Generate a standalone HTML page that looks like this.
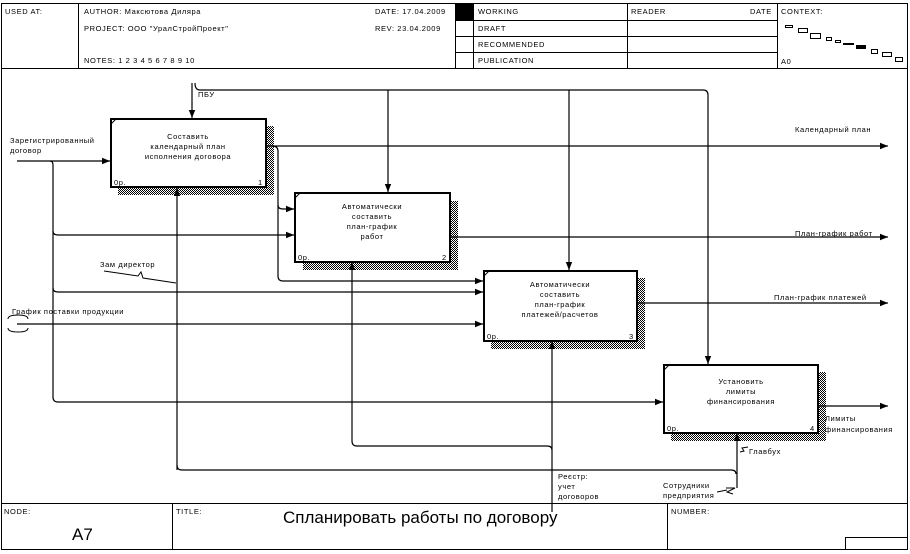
<!DOCTYPE html>
<html><head><meta charset="utf-8"><style>
html,body{margin:0;padding:0;background:#fff;}
svg{display:block;}
text{font-family:"Liberation Sans","DejaVu Sans",sans-serif;fill:#000;}
.s{font-size:7.5px;letter-spacing:0.6px;}
</style></head><body>
<svg width="910" height="554" viewBox="0 0 910 554" xmlns="http://www.w3.org/2000/svg">
<defs>
<pattern id="h" width="2" height="2" patternUnits="userSpaceOnUse"><rect width="1" height="1" fill="#000"/><rect x="1" y="1" width="1" height="1" fill="#000"/></pattern>
<marker id="a" viewBox="0 0 10 10" refX="10" refY="5" markerWidth="9" markerHeight="8" orient="auto" markerUnits="userSpaceOnUse"><path d="M0,1 L10,5 L0,9 z" fill="#000"/></marker>
</defs>
<g fill="none" stroke="#000" stroke-width="1">
<rect x="1.5" y="3.5" width="906" height="546"/>
<line x1="1" y1="68.5" x2="908" y2="68.5"/>
<line x1="1" y1="503.5" x2="908" y2="503.5"/>
<line x1="78.5" y1="3" x2="78.5" y2="68"/>
<line x1="455.5" y1="3" x2="455.5" y2="68"/>
<line x1="473.5" y1="3" x2="473.5" y2="68"/>
<line x1="627.5" y1="3" x2="627.5" y2="68"/>
<line x1="777.5" y1="3" x2="777.5" y2="68"/>
<line x1="455" y1="20.5" x2="777" y2="20.5"/>
<line x1="455" y1="36.5" x2="777" y2="36.5"/>
<line x1="455" y1="52.5" x2="777" y2="52.5"/>
<line x1="172.5" y1="503" x2="172.5" y2="550"/>
<line x1="667.5" y1="503" x2="667.5" y2="550"/>
<rect x="845.5" y="537.5" width="62" height="12"/>
</g>
<rect x="455" y="3" width="18" height="17" fill="#000"/>
<g fill="#fff" stroke="#000">
<rect x="785.5" y="25.5" width="7" height="2"/><rect x="798.5" y="28.5" width="9" height="4"/>
<rect x="810.5" y="33.5" width="10" height="5"/><rect x="826.5" y="37.5" width="5" height="3"/>
<rect x="835.5" y="40.5" width="5" height="2"/><rect x="843.5" y="43.5" width="10" height="1"/>
<rect x="871.5" y="49.5" width="6" height="4"/><rect x="882.5" y="52.5" width="9" height="4"/><rect x="895.5" y="57.5" width="7" height="4"/>
</g>
<rect x="856" y="45" width="10" height="4" fill="#000"/>
<g class="s">
<text x="5" y="14">USED AT:</text>
<text x="84" y="14">AUTHOR:  Максютова Диляра</text>
<text x="84" y="31">PROJECT:  ООО "УралСтройПроект"</text>
<text x="84" y="63">NOTES:  1  2  3  4  5  6  7  8  9  10</text>
<text x="375" y="14">DATE: 17.04.2009</text>
<text x="375" y="31">REV:   23.04.2009</text>
<text x="478" y="14">WORKING</text>
<text x="478" y="31">DRAFT</text>
<text x="478" y="47">RECOMMENDED</text>
<text x="478" y="63">PUBLICATION</text>
<text x="631" y="14">READER</text>
<text x="750" y="14">DATE</text>
<text x="781" y="14">CONTEXT:</text>
<text x="781" y="64">A0</text>
<text x="4" y="514">NODE:</text>
<text x="176" y="514">TITLE:</text>
<text x="671" y="514">NUMBER:</text>
</g>
<text x="72" y="540" font-size="17">A7</text>
<text x="283" y="523" font-size="17">Спланировать работы по договору</text>

<rect x="118" y="187" width="156" height="8" fill="url(#h)"/><rect x="266" y="126" width="8" height="69" fill="url(#h)"/>
<rect x="303" y="262" width="155" height="8" fill="url(#h)"/><rect x="450" y="201" width="8" height="69" fill="url(#h)"/>
<rect x="491" y="341" width="154" height="8" fill="url(#h)"/><rect x="637" y="278" width="8" height="71" fill="url(#h)"/>
<rect x="671" y="433" width="155" height="8" fill="url(#h)"/><rect x="818" y="372" width="8" height="69" fill="url(#h)"/>
<g fill="#fff" stroke="#000" stroke-width="2">
<rect x="111" y="119" width="155" height="68"/>
<rect x="295" y="193" width="155" height="69"/>
<rect x="484" y="271" width="153" height="70"/>
<rect x="664" y="365" width="154" height="68"/>
</g>
<g stroke="#000" stroke-width="1">
<line x1="111" y1="124" x2="116" y2="119"/><line x1="295" y1="198" x2="300" y2="193"/>
<line x1="484" y1="276" x2="489" y2="271"/><line x1="664" y1="370" x2="669" y2="365"/>
</g>
<g class="s" text-anchor="middle">
<text x="188" y="139">Составить</text><text x="188" y="149">календарный план</text><text x="188" y="159">исполнения договора</text>
<text x="372" y="209">Автоматически</text><text x="372" y="219">составить</text><text x="372" y="229">план-график</text><text x="372" y="239">работ</text>
<text x="560" y="287">Автоматически</text><text x="560" y="297">составить</text><text x="560" y="307">план-график</text><text x="560" y="317">платежей/расчетов</text>
<text x="741" y="384">Установить</text><text x="741" y="394">лимиты</text><text x="741" y="404">финансирования</text>
</g>
<g class="s">
<text x="114" y="185">0р.</text><text x="258" y="185">1</text>
<text x="298" y="260">0р.</text><text x="442" y="260">2</text>
<text x="487" y="339">0р.</text><text x="629" y="339">3</text>
<text x="667" y="431">0р.</text><text x="810" y="431">4</text>
</g>

<g fill="none" stroke="#000" stroke-width="1.2">
<path d="M192,83 V118" marker-end="url(#a)"/>
<path d="M195,83 Q195,90 200,90 H703 Q708,90 708,95 V364" marker-end="url(#a)"/>
<path d="M388,90 V192" marker-end="url(#a)"/>
<path d="M569,90 V270" marker-end="url(#a)"/>
<path d="M17,161 H110" marker-end="url(#a)"/>
<path d="M50,161 Q53,161 53,165 V397 Q53,402 58,402 H663" marker-end="url(#a)"/>
<path d="M53,231 Q53,235 58,235 H294" marker-end="url(#a)"/>
<path d="M53,288 Q53,292 58,292 H483" marker-end="url(#a)"/>
<path d="M266,146 H888" marker-end="url(#a)"/>
<path d="M272,146 Q278,146 278,151 V276 Q278,281 283,281 H483" marker-end="url(#a)"/>
<path d="M278,205 Q278,209 283,209 H294" marker-end="url(#a)"/>
<path d="M450,237 H888" marker-end="url(#a)"/>
<path d="M17,324 H483" marker-end="url(#a)"/>
<path d="M637,303 H888" marker-end="url(#a)"/>
<path d="M818,406 H888" marker-end="url(#a)"/>
<path d="M177,470 V188" marker-end="url(#a)"/>
<path d="M177,465 Q177,470 182,470 H731 Q736,470 736,474"/>
<path d="M737,488 V433" marker-end="url(#a)"/>
<path d="M552,512 V341" marker-end="url(#a)"/>
<path d="M552,450 Q552,446 547,446 H357 Q352,446 352,441 V262" marker-end="url(#a)"/>
</g>
<g fill="none" stroke="#000" stroke-width="1">
<path d="M8,319 Q8,315 18,315 Q28,315 28,319"/><path d="M8,328 Q8,332 18,332 Q28,332 28,328"/>
<path d="M104,271 L138,276 L141,272 L143,278 L176,283"/>
<path d="M726,488 L735,488 L727,492 L733,494"/>
<path d="M717,492 L727,490"/>
<path d="M748,447 L742,448 L744,451 L740,452"/>
</g>
<g class="s">
<text x="198" y="97">ПБУ</text>
<text x="10" y="143">Зарегистрированный</text><text x="10" y="153">договор</text>
<text x="12" y="314">График поставки продукции</text>
<text x="100" y="267">Зам директор</text>
<text x="795" y="132">Календарный план</text>
<text x="795" y="236">План-график работ</text>
<text x="774" y="300">План-график платежей</text>
<text x="825" y="421">Лимиты</text><text x="825" y="432">финансирования</text>
<text x="558" y="479">Реєстр:</text><text x="558" y="489">учет</text><text x="558" y="499">договоров</text>
<text x="663" y="488">Сотрудники</text><text x="663" y="498">предприятия</text>
<text x="749" y="454">Главбух</text>
</g>
</svg>
</body></html>
